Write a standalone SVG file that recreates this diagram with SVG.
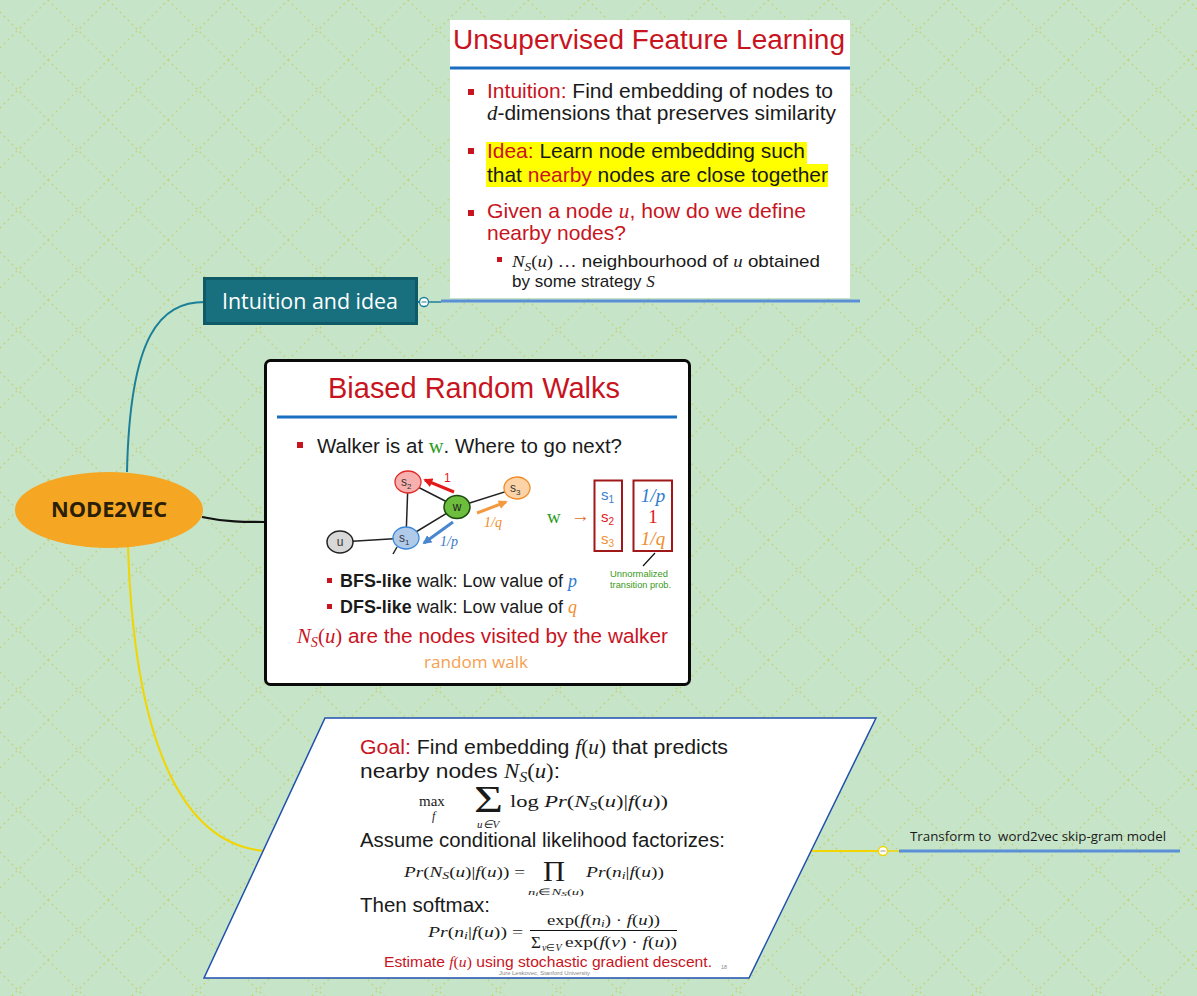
<svg xmlns="http://www.w3.org/2000/svg" width="1197" height="996" viewBox="0 0 1197 996">
<defs>
<pattern id="bg" patternUnits="userSpaceOnUse" width="60" height="60">
<rect width="60" height="60" fill="#c6e4c8"/>
<g stroke="#c6cf6c" stroke-width="1.3" stroke-dasharray="1.6 4" fill="none">
<line x1="0" y1="12" x2="48" y2="60"/>
<line x1="48" y1="0" x2="60" y2="12"/>
<line x1="0" y1="48" x2="48" y2="0"/>
<line x1="48" y1="60" x2="60" y2="48"/>
</g>
</pattern>
<marker id="ar" viewBox="0 0 10 10" refX="8" refY="5" markerWidth="3" markerHeight="3" orient="auto"><path d="M0,0 L10,5 L0,10 z" fill="#e41a1a"/></marker>
<marker id="ao" viewBox="0 0 10 10" refX="8" refY="5" markerWidth="3" markerHeight="3" orient="auto"><path d="M0,0 L10,5 L0,10 z" fill="#f39a40"/></marker>
<marker id="ab" viewBox="0 0 10 10" refX="8" refY="5" markerWidth="3" markerHeight="3" orient="auto"><path d="M0,0 L10,5 L0,10 z" fill="#4a86d0"/></marker>
<style>
.sans{font-family:"Liberation Sans",Arial,sans-serif}
.ui{font-family:"Open Sans","Noto Sans",sans-serif}
.serif{font-family:"Liberation Serif","Times New Roman",serif}
.it{font-style:italic;font-family:"Liberation Serif","Times New Roman",serif}
.red{fill:#c8141e}
.blk{fill:#1a1a1a}
.bul{fill:#c8141e}
.edge{stroke:#222;stroke-width:1.5;fill:none}
.col{fill:#fff;stroke-width:1.3}
</style>
</defs>
<rect width="1197" height="996" fill="url(#bg)"/>

<g id="connectors" fill="none">
<path d="M127,472 C130,335 160,302 205,302" stroke="#1b7f98" stroke-width="2"/>
<path d="M202,517 C225,522 245,522 265,522" stroke="#111" stroke-width="2.2"/>
<path d="M128,547 C135,760 190,846 266,851" stroke="#f2d500" stroke-width="2"/>
<line x1="418" y1="302" x2="420" y2="302" stroke="#1b7f98" stroke-width="2"/>
<line x1="429" y1="302" x2="441" y2="302" stroke="#1b7f98" stroke-width="1.5"/>
<line x1="441" y1="301" x2="860" y2="301" stroke="#5b8fd6" stroke-width="3"/>
<line x1="811" y1="851" x2="879" y2="851" stroke="#f2d500" stroke-width="2"/>
<line x1="888" y1="851" x2="899" y2="851" stroke="#f2d500" stroke-width="1.5"/>
<line x1="899" y1="851" x2="1180" y2="851" stroke="#5b8fd6" stroke-width="3"/>
<circle cx="424" cy="302" r="4.5" class="col" stroke="#1b7f98"/>
<line x1="421.5" y1="302" x2="426.5" y2="302" stroke="#1b7f98" stroke-width="1"/>
<circle cx="883" cy="851" r="4.5" class="col" stroke="#f2d500"/>
<line x1="880.5" y1="851" x2="885.5" y2="851" stroke="#999" stroke-width="1"/>
</g>

<g id="node2vec">
<ellipse cx="109" cy="510" rx="94" ry="38" fill="#f5a623"/>
<text x="109" y="517" text-anchor="middle" class="ui" font-weight="bold" font-size="21" fill="#2a2008" textLength="116" lengthAdjust="spacingAndGlyphs">NODE2VEC</text>
</g>

<g id="intuition-topic">
<rect x="204.5" y="278.5" width="212" height="45" fill="#18707e" stroke="#0e5a66" stroke-width="3"/>
<text x="222" y="309" class="ui" font-size="21" fill="#fff" textLength="176" lengthAdjust="spacingAndGlyphs">Intuition and idea</text>
</g>

<g id="slide-unsupervised">
<rect x="450" y="20" width="400" height="278" fill="#fff"/>
<text x="453" y="49" class="sans red" font-size="27" textLength="392" lengthAdjust="spacingAndGlyphs">Unsupervised Feature Learning</text>
<rect x="450" y="66.5" width="400" height="3" fill="#1a6ec0"/>
<rect x="468" y="89" width="6" height="6" class="bul"/>
<text x="487" y="98" class="sans blk" font-size="21" textLength="346" lengthAdjust="spacingAndGlyphs"><tspan class="red">Intuition:</tspan> Find embedding of nodes to</text>
<text x="487" y="120" class="sans blk" font-size="21" textLength="349" lengthAdjust="spacingAndGlyphs"><tspan class="it">d</tspan>-dimensions that preserves similarity</text>
<rect x="486" y="142" width="321" height="22" fill="#ffff00"/>
<rect x="486" y="164" width="342" height="23" fill="#ffff00"/>
<rect x="468" y="148" width="6" height="6" class="bul"/>
<text x="487" y="158" class="sans blk" font-size="21" textLength="318" lengthAdjust="spacingAndGlyphs"><tspan class="red">Idea:</tspan> Learn node embedding such</text>
<text x="487" y="182" class="sans blk" font-size="21" textLength="341" lengthAdjust="spacingAndGlyphs">that <tspan class="red">nearby</tspan> nodes are close together</text>
<rect x="468" y="210" width="6" height="6" class="bul"/>
<text x="487" y="218" class="sans red" font-size="21" textLength="319" lengthAdjust="spacingAndGlyphs">Given a node <tspan class="it">u</tspan>, how do we define</text>
<text x="487" y="240" class="sans red" font-size="21">nearby nodes?</text>
<rect x="497" y="257" width="5" height="5" class="bul"/>
<text x="512" y="267" class="sans blk" font-size="17" textLength="308" lengthAdjust="spacingAndGlyphs"><tspan class="it">N</tspan><tspan class="it" font-size="12" dy="4">S</tspan><tspan class="serif" dy="-4">(</tspan><tspan class="it">u</tspan><tspan class="serif">) …</tspan> neighbourhood of <tspan class="it">u</tspan> obtained</text>
<text x="512" y="287" class="sans blk" font-size="17">by some strategy <tspan class="it">S</tspan></text>
</g>

<g id="slide-walks">
<rect x="265.5" y="360.5" width="424" height="324" rx="5" fill="#fff" stroke="#0a0a0a" stroke-width="3"/>
<text x="328" y="398" class="sans red" font-size="29" textLength="292" lengthAdjust="spacingAndGlyphs">Biased Random Walks</text>
<rect x="277" y="415.5" width="400" height="3" fill="#1a6ec0"/>
<rect x="297" y="442" width="6" height="6" class="bul"/>
<text x="317" y="453" class="sans blk" font-size="20.5" textLength="305" lengthAdjust="spacingAndGlyphs">Walker is at <tspan class="serif" fill="#2a9a20">w</tspan>. Where to go next?</text>
<line x1="340" y1="542" x2="406" y2="538" class="edge"/>
<line x1="406" y1="538" x2="408" y2="482" class="edge"/>
<line x1="408" y1="482" x2="457" y2="507" class="edge"/>
<line x1="457" y1="507" x2="406" y2="538" class="edge"/>
<line x1="457" y1="507" x2="517" y2="488" class="edge"/>
<line x1="397" y1="547" x2="393" y2="554" class="edge"/>
<ellipse cx="408" cy="482" rx="13" ry="11" fill="#f7b0ae" stroke="#e02a2a" stroke-width="1.3"/>
<ellipse cx="457" cy="507" rx="13" ry="11.5" fill="#6cbe3c" stroke="#1c4a10" stroke-width="1.5"/>
<ellipse cx="517" cy="488" rx="13" ry="11" fill="#fcd3a6" stroke="#f08c28" stroke-width="1.3"/>
<ellipse cx="406" cy="538" rx="13" ry="11" fill="#b0cbea" stroke="#3a88d8" stroke-width="1.3"/>
<ellipse cx="340" cy="542" rx="13" ry="11" fill="#d8d8d8" stroke="#222" stroke-width="1.5"/>
<text x="401" y="486" class="sans" font-size="12" fill="#333">s<tspan font-size="8" dy="3">2</tspan></text>
<text x="457" y="511" class="sans" font-size="12" fill="#222" text-anchor="middle">w</text>
<text x="510" y="492" class="sans" font-size="12" fill="#333">s<tspan font-size="8" dy="3">3</tspan></text>
<text x="399" y="542" class="sans" font-size="12" fill="#333">s<tspan font-size="8" dy="3">1</tspan></text>
<text x="340" y="546" class="sans" font-size="12" fill="#333" text-anchor="middle">u</text>
<line x1="454" y1="492" x2="425" y2="480" stroke="#e41a1a" stroke-width="3" marker-end="url(#ar)"/>
<text x="444" y="482" class="sans" font-size="12" fill="#e41a1a">1</text>
<line x1="477" y1="513" x2="506" y2="502" stroke="#f39a40" stroke-width="3" marker-end="url(#ao)"/>
<text x="484" y="527" class="it" font-size="14" fill="#f08c28">1/q</text>
<line x1="453" y1="522" x2="424" y2="543" stroke="#4a86d0" stroke-width="3" marker-end="url(#ab)"/>
<text x="440" y="546" class="it" font-size="14" fill="#3a7ac8">1/p</text>
<text x="547" y="523" class="serif" font-size="19" fill="#2a9a20">w</text>
<text x="571" y="522" class="serif" font-size="19" fill="#d8702a">→</text>
<rect x="594.5" y="480.5" width="27.5" height="70.5" fill="none" stroke="#a01818" stroke-width="2"/>
<rect x="633.5" y="480.5" width="38.5" height="70.5" fill="none" stroke="#a01818" stroke-width="2"/>
<text x="601" y="500" class="sans" font-size="15" fill="#3a80d0">s<tspan font-size="10" dy="3">1</tspan></text>
<text x="601" y="522" class="sans" font-size="15" fill="#e02020">s<tspan font-size="10" dy="3">2</tspan></text>
<text x="601" y="544" class="sans" font-size="15" fill="#f09030">s<tspan font-size="10" dy="3">3</tspan></text>
<text x="653" y="502" class="it" font-size="19" fill="#2e7bd0" text-anchor="middle">1/p</text>
<text x="653" y="523" class="serif" font-size="19" fill="#e01818" text-anchor="middle">1</text>
<text x="653" y="545" class="it" font-size="19" fill="#f08c28" text-anchor="middle">1/q</text>
<line x1="643" y1="566" x2="655" y2="553" stroke="#111" stroke-width="1.2"/>
<text x="610" y="577" class="sans" font-size="9.5" fill="#3a9a20" textLength="58" lengthAdjust="spacingAndGlyphs">Unnormalized</text>
<text x="610" y="588" class="sans" font-size="9.5" fill="#3a9a20" textLength="61" lengthAdjust="spacingAndGlyphs">transition prob.</text>
<rect x="327" y="578" width="5" height="5" class="bul"/>
<text x="340" y="587" class="sans blk" font-size="18" textLength="237" lengthAdjust="spacingAndGlyphs"><tspan font-weight="bold">BFS-like</tspan> walk: Low value of <tspan class="it" fill="#2e7bd0">p</tspan></text>
<rect x="327" y="604" width="5" height="5" class="bul"/>
<text x="340" y="613" class="sans blk" font-size="18" textLength="237" lengthAdjust="spacingAndGlyphs"><tspan font-weight="bold">DFS-like</tspan> walk: Low value of <tspan class="it" fill="#f08c28">q</tspan></text>
<text x="297" y="643" class="sans red" font-size="20.5" textLength="371" lengthAdjust="spacingAndGlyphs"><tspan class="it">N</tspan><tspan class="it" font-size="14" dy="4">S</tspan><tspan class="serif" dy="-4">(</tspan><tspan class="it">u</tspan><tspan class="serif">)</tspan> are the nodes visited by the walker</text>
<text x="424" y="668" class="ui" font-size="17" fill="#f5a050" textLength="104" lengthAdjust="spacingAndGlyphs">random walk</text>
</g>

<g id="slide-goal">
<polygon points="325,718 876,718 749,978 204,978" fill="#fff" stroke="#2050b0" stroke-width="1.5"/>
<text x="360" y="754" class="sans blk" font-size="20" textLength="368" lengthAdjust="spacingAndGlyphs"><tspan class="red">Goal:</tspan> Find embedding <tspan class="it">f</tspan><tspan class="serif">(</tspan><tspan class="it">u</tspan><tspan class="serif">)</tspan> that predicts</text>
<text x="360" y="778" class="sans blk" font-size="20" textLength="200" lengthAdjust="spacingAndGlyphs">nearby nodes <tspan class="it">N</tspan><tspan class="it" font-size="14" dy="4">S</tspan><tspan class="serif" dy="-4">(</tspan><tspan class="it">u</tspan><tspan class="serif">)</tspan>:</text>
<text x="419" y="806" class="serif blk" font-size="15">max</text>
<text x="432" y="820" class="it blk" font-size="12">f</text>
<text x="474" y="812" class="serif blk" font-size="38" textLength="29" lengthAdjust="spacingAndGlyphs">Σ</text>
<text x="477" y="828" class="it blk" font-size="11">u<tspan class="serif">∈</tspan>V</text>
<text x="510" y="807" class="serif blk" font-size="17" textLength="158" lengthAdjust="spacingAndGlyphs">log <tspan font-style="italic">Pr</tspan>(<tspan font-style="italic">N</tspan><tspan font-style="italic" font-size="12" dy="3">S</tspan><tspan dy="-3">(</tspan><tspan font-style="italic">u</tspan>)|<tspan font-style="italic">f</tspan>(<tspan font-style="italic">u</tspan>))</text>
<text x="360" y="847" class="sans blk" font-size="20" textLength="365" lengthAdjust="spacingAndGlyphs">Assume conditional likelihood factorizes:</text>
<text x="404" y="877" class="serif blk" font-size="14" textLength="121" lengthAdjust="spacingAndGlyphs"><tspan font-style="italic">Pr</tspan>(<tspan font-style="italic">N</tspan><tspan font-style="italic" font-size="10" dy="2">S</tspan><tspan dy="-2">(</tspan><tspan font-style="italic">u</tspan>)|<tspan font-style="italic">f</tspan>(<tspan font-style="italic">u</tspan>)) =</text>
<text x="543" y="881" class="serif blk" font-size="30" textLength="22" lengthAdjust="spacingAndGlyphs">Π</text>
<text x="528" y="895" class="it blk" font-size="9" textLength="56" lengthAdjust="spacingAndGlyphs">n<tspan font-size="7" dy="1">i</tspan><tspan dy="-1" font-style="normal">∈</tspan>N<tspan font-size="7" dy="1">S</tspan><tspan dy="-1" font-style="normal">(</tspan>u<tspan font-style="normal">)</tspan></text>
<text x="586" y="877" class="serif blk" font-size="14" textLength="78" lengthAdjust="spacingAndGlyphs"><tspan font-style="italic">Pr</tspan>(<tspan font-style="italic">n</tspan><tspan font-style="italic" font-size="10" dy="2">i</tspan><tspan dy="-2">|</tspan><tspan font-style="italic">f</tspan>(<tspan font-style="italic">u</tspan>))</text>
<text x="360" y="912" class="sans blk" font-size="20" textLength="130" lengthAdjust="spacingAndGlyphs">Then softmax:</text>
<text x="428" y="937" class="serif blk" font-size="14" textLength="95" lengthAdjust="spacingAndGlyphs"><tspan font-style="italic">Pr</tspan>(<tspan font-style="italic">n</tspan><tspan font-style="italic" font-size="10" dy="2">i</tspan><tspan dy="-2">|</tspan><tspan font-style="italic">f</tspan>(<tspan font-style="italic">u</tspan>)) =</text>
<text x="547" y="925" class="serif blk" font-size="14" textLength="113" lengthAdjust="spacingAndGlyphs">exp(<tspan font-style="italic">f</tspan>(<tspan font-style="italic">n</tspan><tspan font-style="italic" font-size="10" dy="2">i</tspan><tspan dy="-2">) · </tspan><tspan font-style="italic">f</tspan>(<tspan font-style="italic">u</tspan>))</text>
<line x1="530" y1="930.5" x2="677" y2="930.5" stroke="#111" stroke-width="1"/>
<text x="531" y="948" class="serif blk" font-size="17">Σ</text>
<text x="542" y="951" class="it blk" font-size="10">v<tspan class="serif" font-style="normal">∈</tspan>V</text>
<text x="565" y="947" class="serif blk" font-size="14" textLength="112" lengthAdjust="spacingAndGlyphs">exp(<tspan font-style="italic">f</tspan>(<tspan font-style="italic">v</tspan>) · <tspan font-style="italic">f</tspan>(<tspan font-style="italic">u</tspan>))</text>
<text x="384" y="967" class="sans red" font-size="15" textLength="328" lengthAdjust="spacingAndGlyphs">Estimate <tspan class="it">f</tspan><tspan class="serif">(</tspan><tspan class="it">u</tspan><tspan class="serif">)</tspan> using stochastic gradient descent.</text>
<text x="499" y="975" class="sans" font-size="5.5" fill="#888" textLength="91" lengthAdjust="spacingAndGlyphs">Jure Leskovec, Stanford University</text>
<text x="721" y="969" class="sans" font-size="5.5" fill="#888">18</text>
</g>

<g id="transform-topic">
<text x="910" y="841" class="ui" font-size="13" fill="#1a1a1a" textLength="256" lengthAdjust="spacingAndGlyphs">Transform to&#160; word2vec skip-gram model</text>
</g>
</svg>
